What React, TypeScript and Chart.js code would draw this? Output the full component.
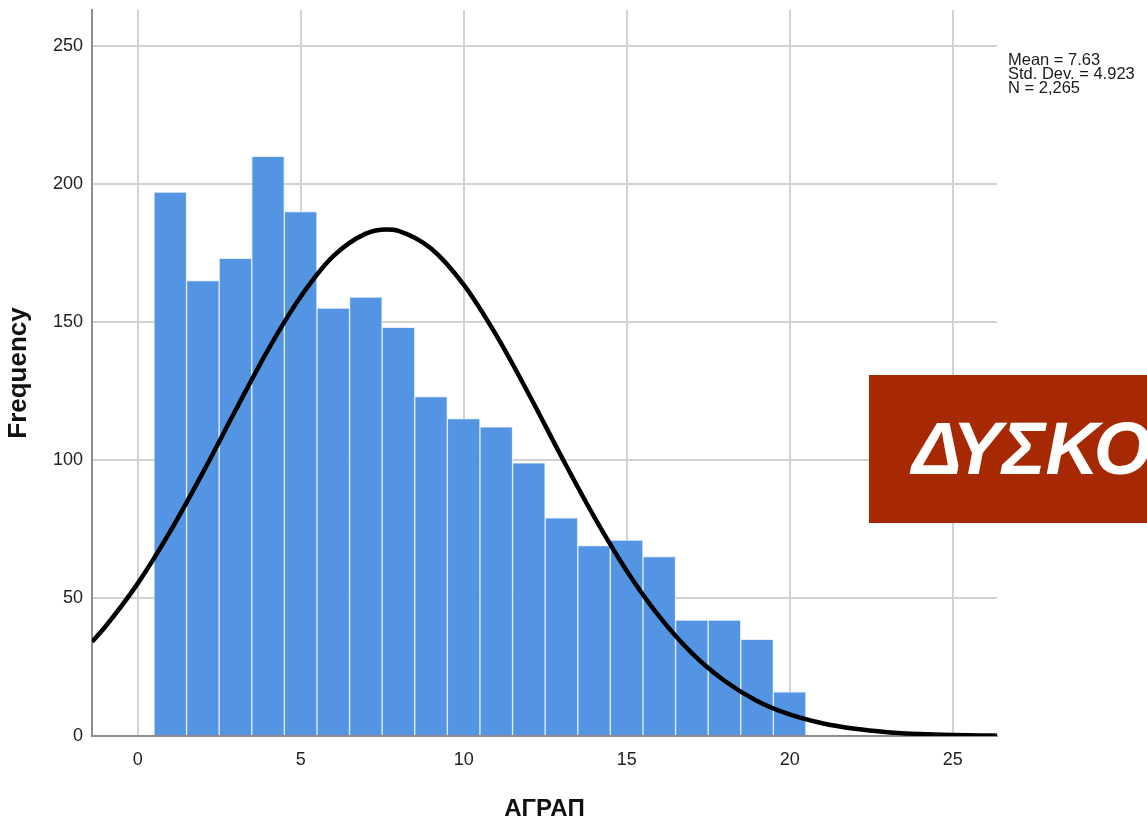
import React, { useEffect, useRef } from "react";
import { Chart, registerables } from "chart.js";

Chart.register(...registerables);

// Histogram bins (centres) and frequencies
const binCenters = [1, 2, 3, 4, 5, 6, 7, 8, 9, 10, 11, 12, 13, 14, 15, 16, 17, 18, 19, 20];
const frequencies = [197, 165, 173, 210, 190, 155, 159, 148, 123, 115, 112, 99, 79, 69, 71, 65, 42, 42, 35, 16];

// Normal curve points
const curveX = [-1.4, -1, 0, 1, 2, 3, 4, 5, 6, 7, 7.63, 8, 9, 10, 11, 12, 13, 14, 15, 16, 17, 18, 19, 20, 21, 22, 23, 24, 25, 26, 26.36];
const curveY = [34.1, 39.5, 55.2, 74.1, 95.4, 117.9, 139.9, 159.1, 173.8, 182.0, 183.5, 183.0, 176.6, 163.5, 145.2, 123.8, 101.2, 79.5, 59.9, 43.3, 30.0, 20.0, 12.7, 7.8, 4.6, 2.6, 1.4, 0.73, 0.36, 0.17, 0.13];

const xTicks = [0, 5, 10, 15, 20, 25];
const yTicks = [0, 50, 100, 150, 200, 250];

const statLines = ["Mean = 7.63", "Std. Dev. = 4.923", "N = 2,265"];
const xTitle = "ΑΓΡΑΠ";
const yTitle = "Frequency";
const bannerText = "ΔΥΣΚΟ";

const tickFont = "'Liberation Sans', Arial, sans-serif";
const mainFont = "'Liberation Sans', Arial, sans-serif";

export default function App() {
  const canvasRef = useRef<HTMLCanvasElement | null>(null);

  useEffect(() => {
    if (!canvasRef.current) return;
    const chart = new Chart(canvasRef.current, {
      type: "bar",
      data: {
        datasets: [
          {
            type: "line",
            data: curveX.map((x, i) => ({ x, y: curveY[i] })),
            borderColor: "#000000",
            borderWidth: 4.5,
            pointRadius: 0,
            fill: false,
            cubicInterpolationMode: "monotone",
            order: 0,
          } as any,
          {
            type: "bar",
            data: binCenters.map((x, i) => ({ x, y: frequencies[i] })),
            backgroundColor: "#5495E3",
            borderColor: "rgba(225,236,250,0.9)",
            borderWidth: 1,
            barPercentage: 1,
            categoryPercentage: 1,
            order: 1,
          } as any,
        ],
      },
      options: {
        responsive: false,
        animation: false,
        layout: { padding: { left: 0, right: 150, top: 10, bottom: 0 } },
        plugins: {
          legend: { display: false },
          tooltip: { enabled: false },
        },
        scales: {
          x: {
            type: "linear",
            min: -1.4,
            max: 26.36,
            offset: false,
            afterBuildTicks: (s: any) => {
              s.ticks = xTicks.map((v) => ({ value: v }));
            },
            afterFit: (s: any) => {
              s.height = 88;
              s.paddingLeft = 0;
              s.paddingRight = 0;
            },
            grid: { color: "#d2d2d2", lineWidth: 2, drawTicks: false, offset: false },
            border: { color: "#8c8c8c", width: 2 },
            ticks: {
              color: "#222222",
              padding: 13,
              maxRotation: 0,
              font: { family: tickFont, size: 18 },
            },
            title: {
              display: true,
              text: xTitle,
              color: "#111111",
              font: { family: mainFont, size: 24, weight: "bold" },
              padding: { top: 0, bottom: 0 },
            },
          },
          y: {
            type: "linear",
            min: 0,
            max: 263,
            afterBuildTicks: (s: any) => {
              s.ticks = yTicks.map((v) => ({ value: v }));
            },
            afterFit: (s: any) => {
              s.width = 92;
              s.paddingTop = 0;
              s.paddingBottom = 0;
            },
            grid: { color: "#d2d2d2", lineWidth: 2, drawTicks: false },
            border: { color: "#8c8c8c", width: 2 },
            ticks: {
              color: "#222222",
              padding: 9,
              font: { family: tickFont, size: 18 },
            },
            title: {
              display: true,
              text: yTitle,
              color: "#111111",
              font: { family: mainFont, size: 26, weight: "bold" },
              padding: { top: 3, bottom: 0 },
            },
          },
        },
      },
    });
    return () => chart.destroy();
  }, []);

  return (
    <div
      style={{
        position: "fixed",
        left: 0,
        top: 0,
        width: 1147,
        height: 824,
        overflow: "hidden",
        background: "#ffffff",
      }}
    >
      <canvas
        ref={canvasRef}
        width={1147}
        height={824}
        style={{ position: "absolute", left: 0, top: 0, width: 1147, height: 824 }}
      />
      <div
        style={{
          position: "absolute",
          left: 1008,
          top: 52,
          fontFamily: mainFont,
          fontSize: 16.5,
          lineHeight: "14px",
          color: "#1a1a1a",
          whiteSpace: "nowrap",
        }}
      >
        {statLines.map((l) => (
          <div key={l}>{l}</div>
        ))}
      </div>
      <div
        style={{
          position: "absolute",
          left: 869,
          top: 375,
          width: 400,
          height: 148,
          background: "#A72903",
          overflow: "hidden",
        }}
      >
        <div
          style={{
            position: "absolute",
            left: 43,
            top: 0,
            height: 148,
            lineHeight: "148px",
            fontFamily: mainFont,
            fontSize: 74,
            fontWeight: "bold",
            fontStyle: "italic",
            color: "#ffffff",
            whiteSpace: "nowrap",
          }}
        >
          {bannerText}
        </div>
      </div>
    </div>
  );
}
